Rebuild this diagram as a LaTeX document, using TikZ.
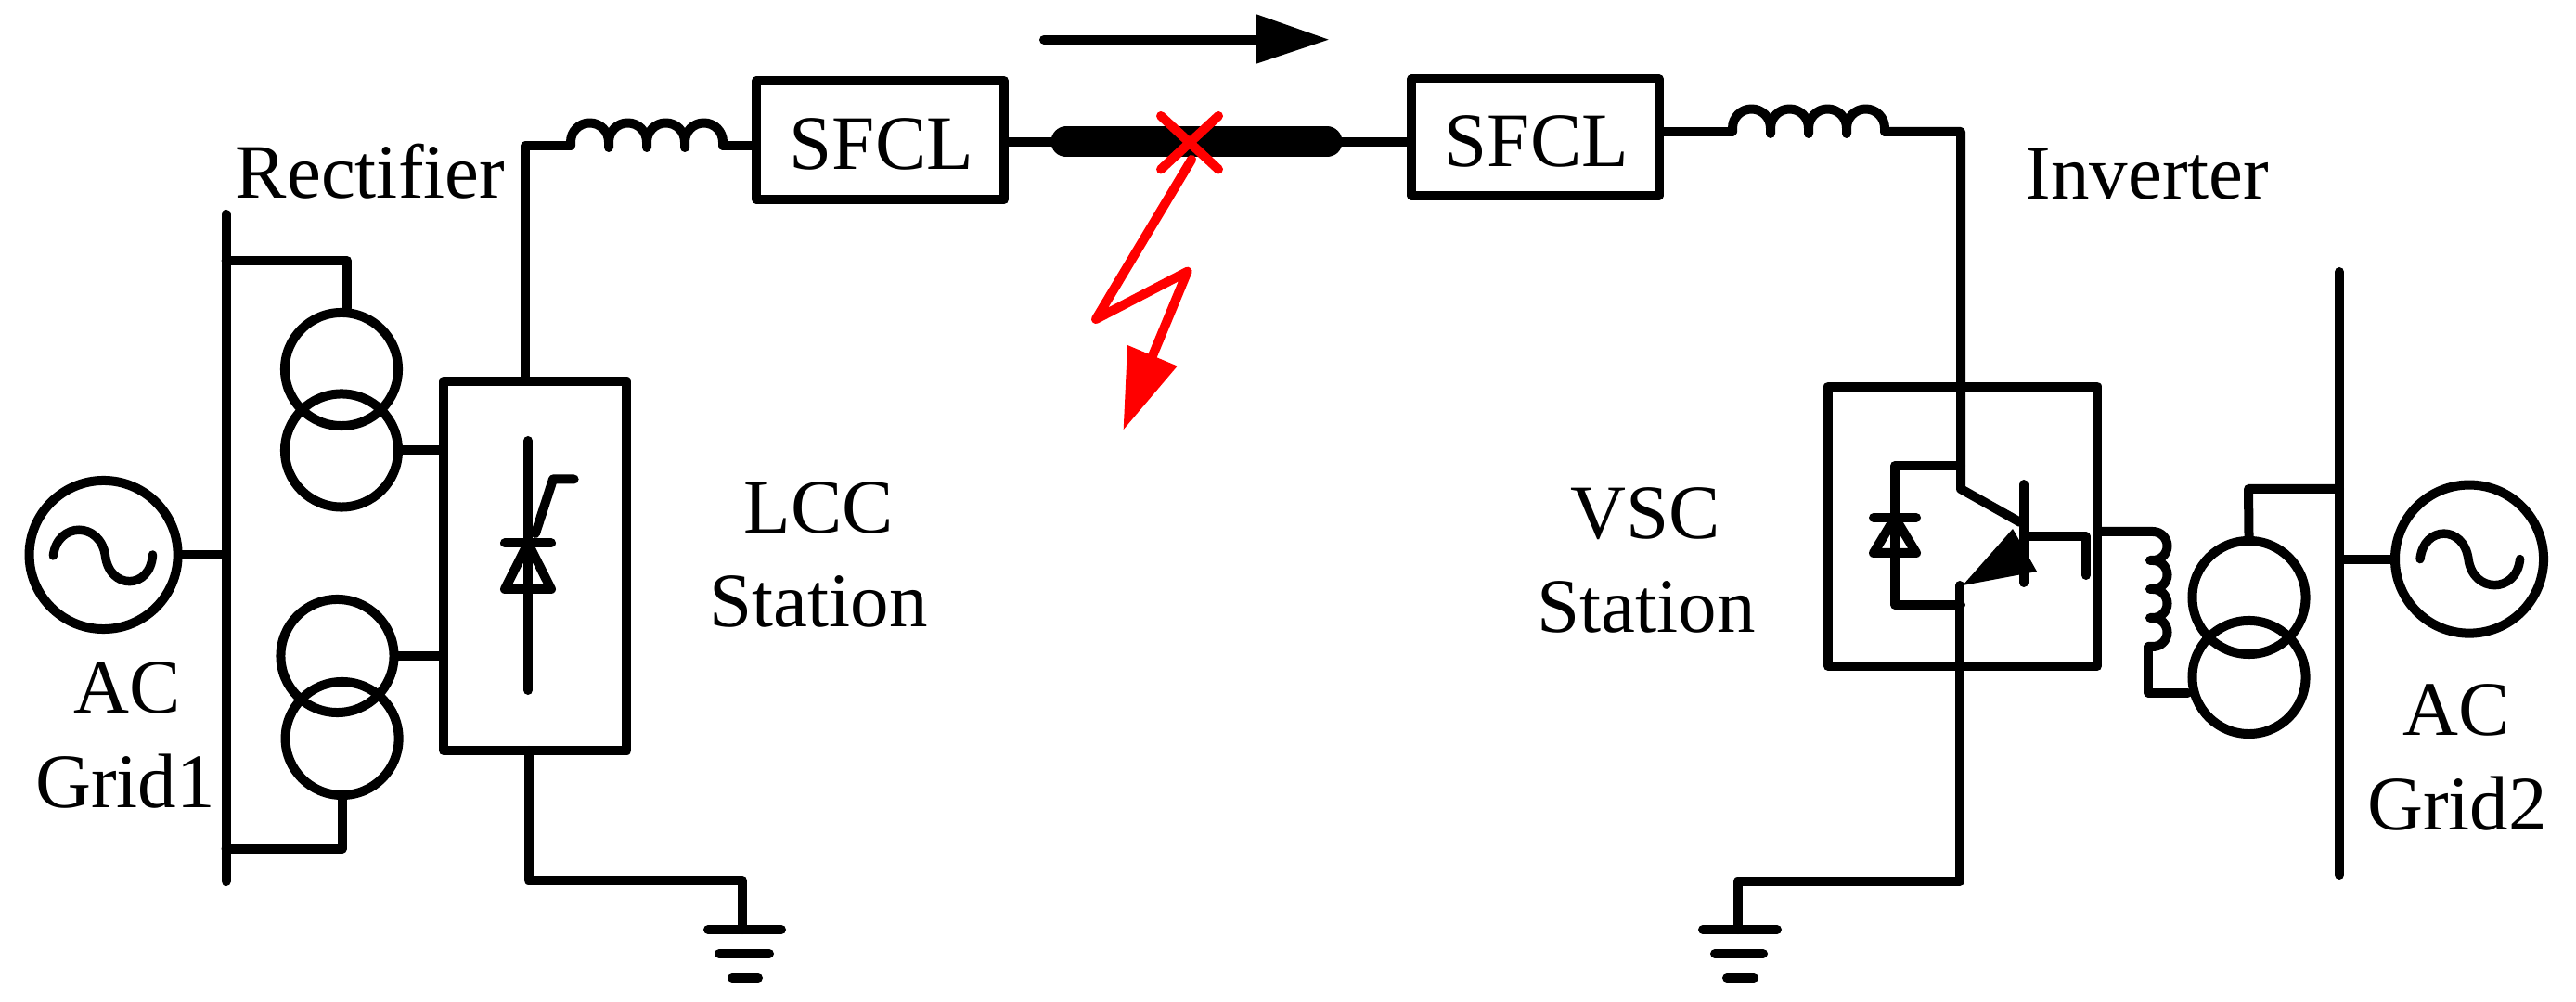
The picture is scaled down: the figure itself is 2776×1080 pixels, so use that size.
\documentclass[tikz,border=0pt]{standalone}
\usepackage{fontspec}
\setmainfont{Liberation Serif}
\begin{document}
\begin{tikzpicture}[x=0.01cm,y=-0.01cm,
  wire/.style={line width=0.1cm,line cap=round,line join=round},
  box/.style={draw,line width=0.1cm,rectangle,inner sep=0pt,line join=round},
  ring/.style={draw,line width=0.1cm,circle,inner sep=0pt,minimum size=1.22cm},
  src/.style={draw,line width=0.1cm,circle,inner sep=0pt,minimum size=1.6cm},
  lab/.style={anchor=base,inner sep=0pt,font=\fontsize{23.6}{28}\selectfont},
  fault/.style={draw=red,line width=0.1cm,line cap=round,line join=round},
  wave/.style={line width=0.095cm,line cap=round}]
\useasboundingbox (0,0) rectangle (2776,1080);
% buses
\coordinate (b1t) at (243.6,231); \coordinate (b1b) at (243.6,950);
\draw[wire] (b1t) -- (b1b);
\coordinate (b2t) at (2521,293); \coordinate (b2b) at (2521,943);
\draw[wire] (b2t) -- (b2b);
% grid 1
\node[src] (s1) at (111.6,598) {};
\draw[wire] (s1.east) -- (s1.east -| b1t);
\draw[wave] (57.4,599) .. controls (62,562) and (108,562) .. (113.5,599) .. controls (118,636) and (162,636) .. (164.5,598);
% transformers left
\node[ring] (t1) at (368,398) {};
\node[ring] (t2) at (368,485.5) {};
\node[ring] (t3) at (363.5,707) {};
\node[ring] (t4) at (368.6,796) {};
\coordinate (t1k) at (374,281);
\draw[wire] (b1t |- t1k) -- (t1k) -- (t1k |- t1.north);
\coordinate (t4k) at (368.6,914.6);
\draw[wire] (t4.south) -- (t4k) -- (t4k -| b1t);
% LCC
\node[box,minimum width=1.974cm,minimum height=3.98cm] (lcc) at (576.7,610) {};
\draw[wire] (t2.east) -- (t2.east -| lcc.west);
\draw[wire] (t3.east) -- (t3.east -| lcc.west);
% thyristor
\coordinate (ta) at (569,475); \coordinate (tk) at (569,744);
\draw[wire] (ta) -- (tk);
\draw[wire] (544,585.4) -- (594,585.4);
\draw[wire] (569,585.4) -- (594,635) -- (544,635) -- cycle;
\draw[wire] (577,575) -- (596,516.5) -- (618.6,516.5);
% inductor left + SFCL1
\node[box,minimum width=2.67cm,minimum height=1.28cm] (f1) at (948.5,151) {};
\coordinate (c1) at (566,157);
\coordinate (l1a) at (615,157); \coordinate (l1b) at (779,157);
\draw[wire] (lcc.north -| c1) -- (c1) -- (l1a);
\draw[wire] (l1a) -- ++(0,-4) arc[start angle=180,end angle=360,radius=20.5] -- ++(0,6) -- ++(0,-6)
  arc[start angle=180,end angle=360,radius=20.5] -- ++(0,6) -- ++(0,-6)
  arc[start angle=180,end angle=360,radius=20.5] -- ++(0,6) -- ++(0,-6)
  arc[start angle=180,end angle=360,radius=20.5] -- (l1b);
\draw[wire] (l1b) -- (l1b -| f1.west);
\node[lab] (tf1) at (950,182.5) {SFCL};
% line
\node[box,minimum width=2.67cm,minimum height=1.256cm] (f2) at (1654.5,148.2) {};
\coordinate (ln) at (1149,153); \coordinate (rn) at (1430,153);
\draw[wire] (f1.east |- ln) -- (f2.west |- ln);
\draw[line width=0.33cm,line cap=round] (ln) -- (rn);
\node[lab] (tf2) at (1656,180) {SFCL};
% inductor right
\coordinate (l2a) at (1867,142); \coordinate (l2b) at (2031,142);
\draw[wire] (f2.east |- l2a) -- (l2a);
\draw[wire] (l2a) -- ++(0,-4) arc[start angle=180,end angle=360,radius=20.5] -- ++(0,6) -- ++(0,-6)
  arc[start angle=180,end angle=360,radius=20.5] -- ++(0,6) -- ++(0,-6)
  arc[start angle=180,end angle=360,radius=20.5] -- ++(0,6) -- ++(0,-6)
  arc[start angle=180,end angle=360,radius=20.5] -- (l2b);
\coordinate (c2) at (2113,142);
\node[box,minimum width=2.9cm,minimum height=3.013cm] (vsc) at (2115,567.3) {};
% IGBT
\coordinate (col) at (2113,527);
\coordinate (bt) at (2181,522); \coordinate (bb) at (2181,628);
\draw[wire] (l2b) -- (c2) -- (col) -- (2177,563);
\draw[wire] (bt) -- (bb);
\coordinate (gk) at (2248,578); \coordinate (ge) at (2248,620);
\draw[wire] (bt |- gk) -- (gk) -- (ge);
\fill (2115,631) -- (2169,570) -- (2195,616) -- cycle;
\coordinate (em) at (2112,631); \coordinate (gnd2c) at (2112,950); \coordinate (g2) at (1872.5,950);
\draw[wire] (em) -- (gnd2c) -- (g2) -- (1872.5,1002);
% diode
\coordinate (d1) at (2042,502); \coordinate (d2) at (2042,652);
\draw[wire] (col |- d1) -- (d1) -- (d2) -- (col |- d2);
\draw[wire] (2019,558) -- (2065,558);
\draw[wire] (2042,558) -- (2065,596) -- (2019,596) -- cycle;
% grounds
\draw[wire] (1835,1002) -- (1915,1002);
\draw[wire] (1848,1028) -- (1900,1028);
\draw[wire] (1861,1054) -- (1890,1054);
\coordinate (g1) at (800,949);
\draw[wire] (569.5,809) -- (569.5,949) -- (g1) -- (800,1002);
\draw[wire] (763,1002) -- (842,1002);
\draw[wire] (775,1028) -- (829,1028);
\draw[wire] (789,1054) -- (817,1054);
% right transformer
\node[ring] (t5) at (2423.5,644) {};
\node[ring] (t6) at (2423.5,730) {};
\coordinate (tk5) at (2423,527);
\draw[wire] (t5.north) -- (tk5) -- (tk5 -| b2t);
\node[src,minimum size=1.6cm] (s2) at (2661,602.6) {};
\draw[wire] (s2.west) -- (s2.west -| b2t);
\draw[wave] (2608,602.6) .. controls (2612,566) and (2655,566) .. (2660,602.6) .. controls (2665,640) and (2712,640) .. (2715.6,602.6);
% output inductor
\coordinate (o1) at (2320,573);
\draw[wire] (vsc.east |- o1) -- (o1)
  arc[start angle=-90,end angle=90,radius=15.5] -- ++(-3,0) -- ++(3,0)
  arc[start angle=-90,end angle=90,radius=15.5] -- ++(-3,0) -- ++(3,0)
  arc[start angle=-90,end angle=90,radius=15.5] -- ++(-3,0) -- ++(3,0)
  arc[start angle=-90,end angle=90,radius=15.5] -- ++(-5,0);
\coordinate (o2) at (2315,747);
\draw[wire] (2315,697) -- (o2) -- (t6.west |- o2);
% arrow
\coordinate (a1) at (1125,42.7); \coordinate (a2) at (1353,42.7);
\draw[wire] (a1) -- (a2);
\fill (1353,15) -- (1431.7,42.7) -- (1353,69) -- cycle;
% fault
\coordinate (x1) at (1251,125); \coordinate (x2) at (1313,182.5);
\coordinate (x3) at (1313,125); \coordinate (x4) at (1251,182.5);
\draw[fault] (x1) -- (x2);
\draw[fault] (x3) -- (x4);
\draw[fault] (1284,172) -- (1181,344) -- (1279.6,292.7) -- (1241,386);
\fill[red] (1215,372) -- (1268.7,394.6) -- (1210.7,463) -- cycle;
% text
\node[lab] (rect) at (399,213.5) {Rectifier};
\node[lab] (inv) at (2314,215) {Inverter};
\node[lab] (lcc1) at (882,575) {LCC};
\node[lab] (lcc2) at (882,676) {Station};
\node[lab] (vsc1) at (1773,580.6) {VSC};
\node[lab] (vsc2) at (1774,682) {Station};
\node[lab] (ac1) at (137,769) {AC};
\node[lab] (gr1) at (135,871) {Grid1};
\node[lab] (ac2) at (2647,793) {AC};
\node[lab] (gr2) at (2648,894) {Grid2};
\end{tikzpicture}
\end{document}
